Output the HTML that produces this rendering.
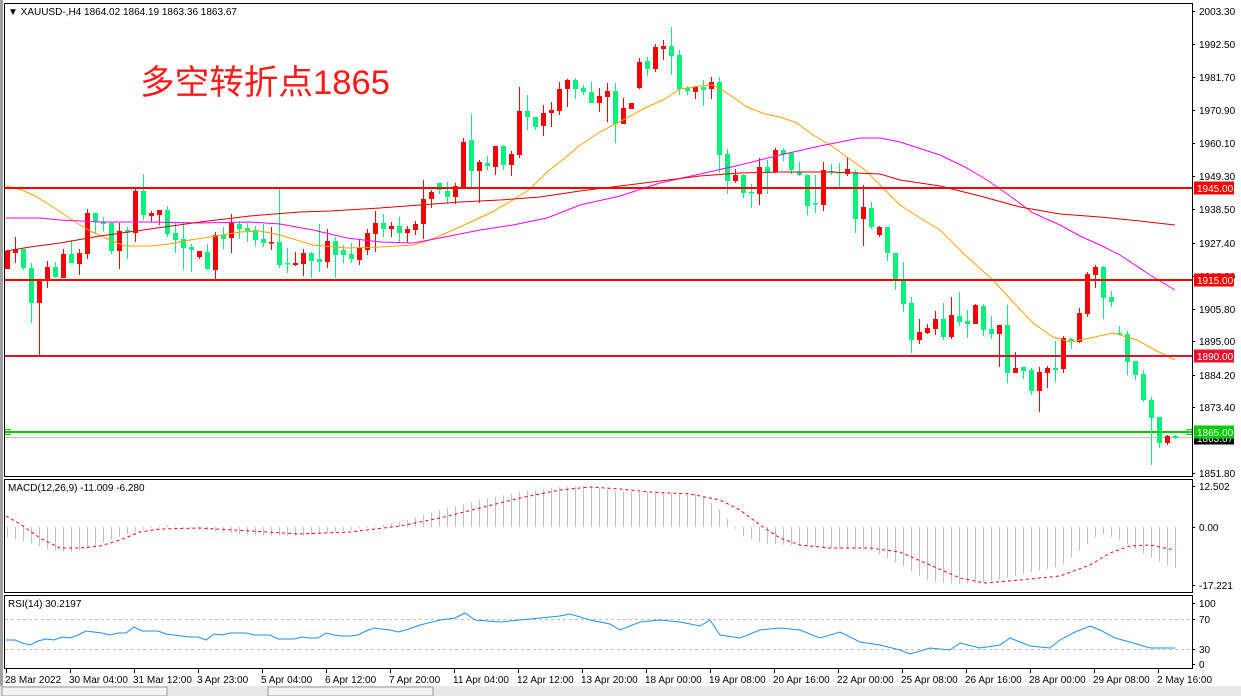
<!DOCTYPE html>
<html><head><meta charset="utf-8"><style>
html,body{margin:0;padding:0;background:#fff;}
svg{display:block;font-family:"Liberation Sans","Noto Sans CJK SC",sans-serif;}
</style></head><body>
<svg id="s" width="1241" height="696" viewBox="0 0 1241 696" xmlns="http://www.w3.org/2000/svg">
<rect x="0" y="0" width="1241" height="696" fill="#fff"/>
<rect x="0" y="0" width="3" height="686" fill="#a0a0a0"/>
<rect x="0" y="686" width="1241" height="10" fill="#e8e8e8"/>
<rect x="2" y="687" width="165" height="9" fill="#f4f4f4" stroke="#999" stroke-width="1"/>
<rect x="268" y="687" width="165" height="9" fill="#f4f4f4" stroke="#999" stroke-width="1"/>
<g id="grid"></g>
<g id="plot"></g>
<g fill="none" stroke="#000" stroke-width="1" shape-rendering="crispEdges">
<rect x="4.5" y="3.5" width="1188" height="473"/>
<rect x="4.5" y="479.5" width="1188" height="113"/>
<rect x="4.5" y="595.5" width="1188" height="73"/>
</g>
<text x="8" y="15" font-size="10" fill="#000">▼ XAUUSD-,H4  1864.02 1864.19 1863.36 1863.67</text>
<text x="140" y="94" font-size="34" fill="#ff1a1a" textLength="250" lengthAdjust="spacingAndGlyphs" font-family="'Liberation Sans','Noto Sans CJK SC',sans-serif">多空转折点1865</text>
<text x="8" y="491" font-size="10" fill="#000">MACD(12,26,9) -11.009 -6.280</text>
<text x="8" y="607" font-size="10" fill="#000">RSI(14) 30.2197</text>
<g id="axis" font-size="10" fill="#000"></g>
</svg>
<script>
var NS="http://www.w3.org/2000/svg";
function el(p,t,a,txt){var e=document.createElementNS(NS,t);for(var k in a)e.setAttribute(k,a[k]);if(txt!=null)e.textContent=txt;p.appendChild(e);return e;}
var plot=document.getElementById('plot'),axis=document.getElementById('axis');
var R="#ff0000",G="#00f47a";
var C=[
"r 250 269 251 269","r 237 263 249 253","g 249 270 249 268","g 263 323 268 303","r 280 355 280 303","r 261 288 267 279","g 262 278 267 277","r 249 278 254 278","g 240 263 254 263","r 249 275 253 264",
"r 209 259 213 254","g 213 233 213 222","g 217 231 222 224","g 222 254 223 251","r 223 269 231 251","g 227 259 230 232","r 189 242 191 233","g 174 220 191 215","r 211 222 213 216","r 210 225 210 215",
"g 206 237 210 234","g 223 253 233 240","g 223 270 239 248","g 244 272 247 250","r 251 259 251 257","g 244 270 252 269","r 232 280 235 270","g 227 249 235 239","r 214 253 223 238","g 221 239 224 229",
"g 223 242 228 231","g 226 246 230 240","g 224 247 239 243","r 227 250 242 243","g 189 268 242 265","g 248 273 263 264","r 252 266 263 265","r 249 276 253 264","g 252 278 253 261","g 224 272 259 262",
"r 229 268 241 262","g 237 278 241 255","g 245 263 250 255","g 243 263 254 259","r 240 265 248 260","r 229 255 233 250","r 211 252 223 234","g 214 237 223 229","r 222 237 226 229","g 217 242 226 233",
"r 226 243 229 233","r 221 235 224 230","r 180 239 199 224","r 190 208 192 199","g 183 194 183 190","g 182 204 191 197","r 183 204 186 197","r 138 188 142 188","g 114 188 140 171","r 160 203 162 171",
"g 156 170 163 166","r 146 175 146 167","g 145 170 146 165","r 151 176 154 165","r 87 158 111 155","g 95 130 111 117","g 117 130 117 127","r 105 136 113 126","r 102 127 110 113","r 82 115 89 111",
"r 79 107 80 89","g 78 99 80 89","g 85 95 88 92","g 82 103 92 103","r 88 112 96 103","r 83 122 91 97","g 83 143 91 124","r 98 124 108 124","r 103 109 103 109","r 58 89 62 88",
"g 57 76 61 69","r 44 72 47 69","r 40 60 46 49","g 27 75 46 56","g 50 95 55 89","g 86 95 88 91","r 86 99 87 92","g 80 106 87 90","r 77 99 82 89","g 77 173 82 155",
"g 149 194 154 181","r 169 183 175 181","g 174 198 175 193","g 184 208 192 193","r 158 205 167 194","g 160 194 167 172","r 148 173 150 172","g 148 161 150 154","g 152 174 153 170","g 162 176 172 175",
"g 174 215 175 206","g 175 213 203 204","r 162 211 170 205","g 164 175 171 172","g 163 187 172 173","r 157 176 169 174","g 170 233 172 219","r 185 246 207 219","g 202 229 208 227","r 226 237 227 235",
"g 227 261 227 253","g 253 290 253 279","g 262 312 281 304","g 297 353 303 340","r 319 344 332 340","r 324 334 328 333","r 311 335 319 329","g 303 340 319 337","r 297 339 315 337","g 292 326 316 322",
"g 310 338 321 324","r 304 324 305 324","g 304 336 306 330","g 316 339 329 334","r 325 367 325 334","g 305 383 325 373","r 352 373 368 373","g 367 379 367 371","g 368 395 370 391","r 367 412 372 391",
"r 366 388 368 373","g 341 382 368 370","r 336 373 338 369","g 338 349 339 341","r 308 343 313 342","r 272 317 274 314","r 265 288 267 275","g 266 319 267 298","g 291 307 297 302","g 326 335 333 334",
"g 331 375 334 362","g 361 380 361 375","g 370 402 374 400","g 397 465 400 418","g 417 448 417 443","r 435 445 436 443","g 435 439 436 438"];
function pl(pts,col,w,dash,par){var s=pts.map(function(p){return p[0]+","+p[1]}).join(" ");var a={points:s,fill:"none",stroke:col,"stroke-width":w||1};if(dash)a["stroke-dasharray"]=dash;el(par||plot,"polyline",a);}
el(plot,"line",{x1:5,x2:1192,y1:437.5,y2:437.5,stroke:"#c0c0c0","stroke-width":1});
C.forEach(function(s,i){var p=s.split(" ");var col=p[0]=="r"?R:G;var x=Math.round(6.7+8*i);var wt=+p[1],wb=+p[2],bt=+p[3],bb=+p[4];
el(plot,"rect",{x:x,y:wt,width:1,height:Math.max(1,wb-wt),fill:col});
el(plot,"rect",{x:x-2,y:bt,width:5,height:Math.max(1.5,bb-bt),fill:col});});
pl([[6,186],[22,190],[35,196],[50,205],[65,215],[80,225],[90,231],[110,240],[125,246],[150,246],[170,244],[190,240],[210,237],[240,232],[260,231],[280,235],[313,245],[347,248],[380,247],[413,245],[430,240],[460,227],[490,213],[513,200],[530,189],[547,172],[565,158],[580,145],[600,132],[623,120],[645,108],[663,100],[680,89],[700,86],[713,85],[730,95],[747,107],[765,114],[780,117],[797,123],[813,135],[830,145],[847,157],[865,170],[880,185],[900,205],[920,218],[940,230],[965,255],[993,280],[1013,302],[1033,323],[1053,337],[1070,342],[1090,338],[1113,333],[1137,340],[1155,350],[1175,360]],"#ffa000",1);
pl([[6,218],[40,218],[60,220],[100,222],[150,222],[200,223],[250,222],[280,224],[313,230],[347,238],[380,242],[413,243],[440,238],[480,230],[513,225],[547,218],[580,205],[620,196],[660,183],[700,174],[740,165],[780,155],[820,146],[860,138],[880,138],[900,142],[940,155],[965,167],[987,180],[1010,196],[1033,213],[1060,225],[1080,236],[1100,245],[1120,255],[1150,275],[1175,290]],"#ff00ff",1);
pl([[6,251],[30,247],[60,243],[100,236],[150,229],[200,222],[250,216],[300,212],[330,211],[380,208],[420,205],[460,202],[500,200],[540,197],[580,191],[620,186],[660,181],[700,176],[740,173],[780,172],[830,172],[880,174],[900,180],[940,186],[980,196],[1020,207],[1060,214],[1100,217],[1140,221],[1175,225]],"#e00000",1);
[[188,"#ff0000"],[280,"#ff0000"],[356,"#e8102a"]].forEach(function(l){el(plot,"rect",{x:5,y:l[0]-1,width:1187,height:2,fill:l[1]});});
el(plot,"rect",{x:5,y:431,width:1187,height:2,fill:"#00cc00"});
el(plot,"rect",{x:5,y:429.5,width:5,height:5,fill:"none",stroke:"#00cc00","stroke-width":1});
el(plot,"rect",{x:1187,y:429.5,width:5,height:5,fill:"none",stroke:"#00cc00","stroke-width":1});
[["2003.30",11],["1992.50",44],["1981.70",77],["1970.90",110],["1960.10",143],["1949.30",176],["1938.50",209],["1927.40",243],["1916.60",276],["1905.80",309],["1895.00",341],["1884.20",375],["1873.40",407],["1851.80",473]].forEach(function(a){
el(axis,"rect",{x:1192,y:a[1],width:3,height:1,fill:"#000"});el(axis,"text",{x:1199,y:a[1]+4},a[0]);});
function tag(y,bg,t){el(axis,"rect",{x:1194,y:y-6.5,width:40,height:13,fill:bg});el(axis,"text",{x:1197,y:y+4,fill:"#fff"},t);}
tag(438,"#000","1863.67");tag(188,"#ff0000","1945.00");tag(280,"#ff0000","1915.00");tag(356,"#e8102a","1890.00");tag(432,"#00cc00","1865.00");
function interp(k,x){for(var j=0;j<k.length-1;j++){if(x>=k[j][0]&&x<=k[j+1][0]){var t=(x-k[j][0])/(k[j+1][0]-k[j][0]);return k[j][1]+t*(k[j+1][1]-k[j][1]);}}return k[k.length-1][1];}
var H=[[6,537],[30,543],[50,550],[70,552],[90,548],[110,540],[130,533],[150,528],[170,525],[200,530],[250,535],[300,536],[350,530],[400,522],[440,510],[480,500],[520,492],[560,487],[590,486],[620,492],[660,492],[700,494],[720,510],[740,535],[760,543],[790,545],[830,548],[870,550],[900,565],[930,582],[960,584],[985,582],[1020,575],[1060,566],[1080,550],[1100,533],[1120,540],[1140,552],[1160,562],[1175,568]];
for(var i=0;i<147;i++){var x=Math.round(6.7+8*i);var y=interp(H,x);el(plot,"rect",{x:x,y:Math.min(y,527),width:1,height:Math.max(1,Math.abs(y-527)),fill:"#c0c0c0"});}
pl([[6,516],[20,524],[40,538],[60,548],[80,548],[100,546],[120,540],[140,532],[160,529],[200,528],[250,531],[300,534],[350,532],[400,526],[440,518],[480,508],[520,498],[560,490],[590,487],[620,489],[650,492],[690,494],[720,500],[740,510],[760,525],[780,538],[800,545],[830,548],[870,548],[900,552],[930,565],[960,578],[985,583],[1020,580],[1060,576],[1090,565],[1110,553],[1130,546],[1150,545],[1175,550]],"#ff0000",1,"3,3");
[["12.502",486],["0.00",527],["-17.221",585]].forEach(function(a){el(axis,"rect",{x:1192,y:a[1],width:3,height:1,fill:"#000"});el(axis,"text",{x:1199,y:a[1]+4},a[0]);});
el(plot,"line",{x1:5,x2:1192,y1:619.5,y2:619.5,stroke:"#c0c0c0","stroke-dasharray":"3,3"});
el(plot,"line",{x1:5,x2:1192,y1:649.5,y2:649.5,stroke:"#c0c0c0","stroke-dasharray":"3,3"});
pl([[6,640],[15,640],[22,643],[30,645],[38,641],[46,639],[54,640],[62,637],[70,638],[78,635],[86,631],[94,632],[102,633],[110,635],[118,633],[126,633],[134,627],[142,631],[150,631],[158,631],[166,634],[174,635],[182,636],[190,637],[198,637],[206,640],[214,634],[222,635],[230,633],[238,633],[246,633],[254,635],[262,635],[270,635],[278,639],[286,639],[294,639],[302,637],[310,638],[318,638],[326,633],[334,635],[342,636],[350,636],[358,635],[366,631],[374,628],[382,629],[390,630],[398,632],[406,630],[420,625],[440,620],[455,618],[465,613],[475,620],[500,622],[520,620],[540,618],[560,616],[570,614],[590,620],[610,624],[620,630],[640,622],[660,620],[680,622],[700,626],[710,620],[720,635],[740,638],[760,630],[780,628],[800,630],[820,638],[840,632],[860,642],[880,645],[900,650],[910,654],[930,648],[950,650],[960,643],[980,648],[1000,645],[1010,638],[1030,646],[1050,648],[1060,640],[1075,632],[1090,626],[1100,630],[1115,638],[1130,642],[1150,648],[1175,648]],"#1e90ff",1);
[["100",603],["70",619],["30",649],["0",664]].forEach(function(a){el(axis,"rect",{x:1192,y:a[1],width:3,height:1,fill:"#000"});el(axis,"text",{x:1199,y:a[1]+4},a[0]);});
["28 Mar 2022","30 Mar 04:00","31 Mar 12:00","3 Apr 23:00","5 Apr 04:00","6 Apr 12:00","7 Apr 20:00","11 Apr 04:00","12 Apr 12:00","13 Apr 20:00","18 Apr 00:00","19 Apr 08:00","20 Apr 16:00","22 Apr 00:00","25 Apr 08:00","26 Apr 16:00","28 Apr 00:00","29 Apr 08:00","2 May 16:00"].forEach(function(t,i){var x=6+64*i;el(axis,"rect",{x:x,y:669,width:1,height:4,fill:"#000"});el(axis,"text",{x:x-1,y:683},t);});
</script>
</body></html>
